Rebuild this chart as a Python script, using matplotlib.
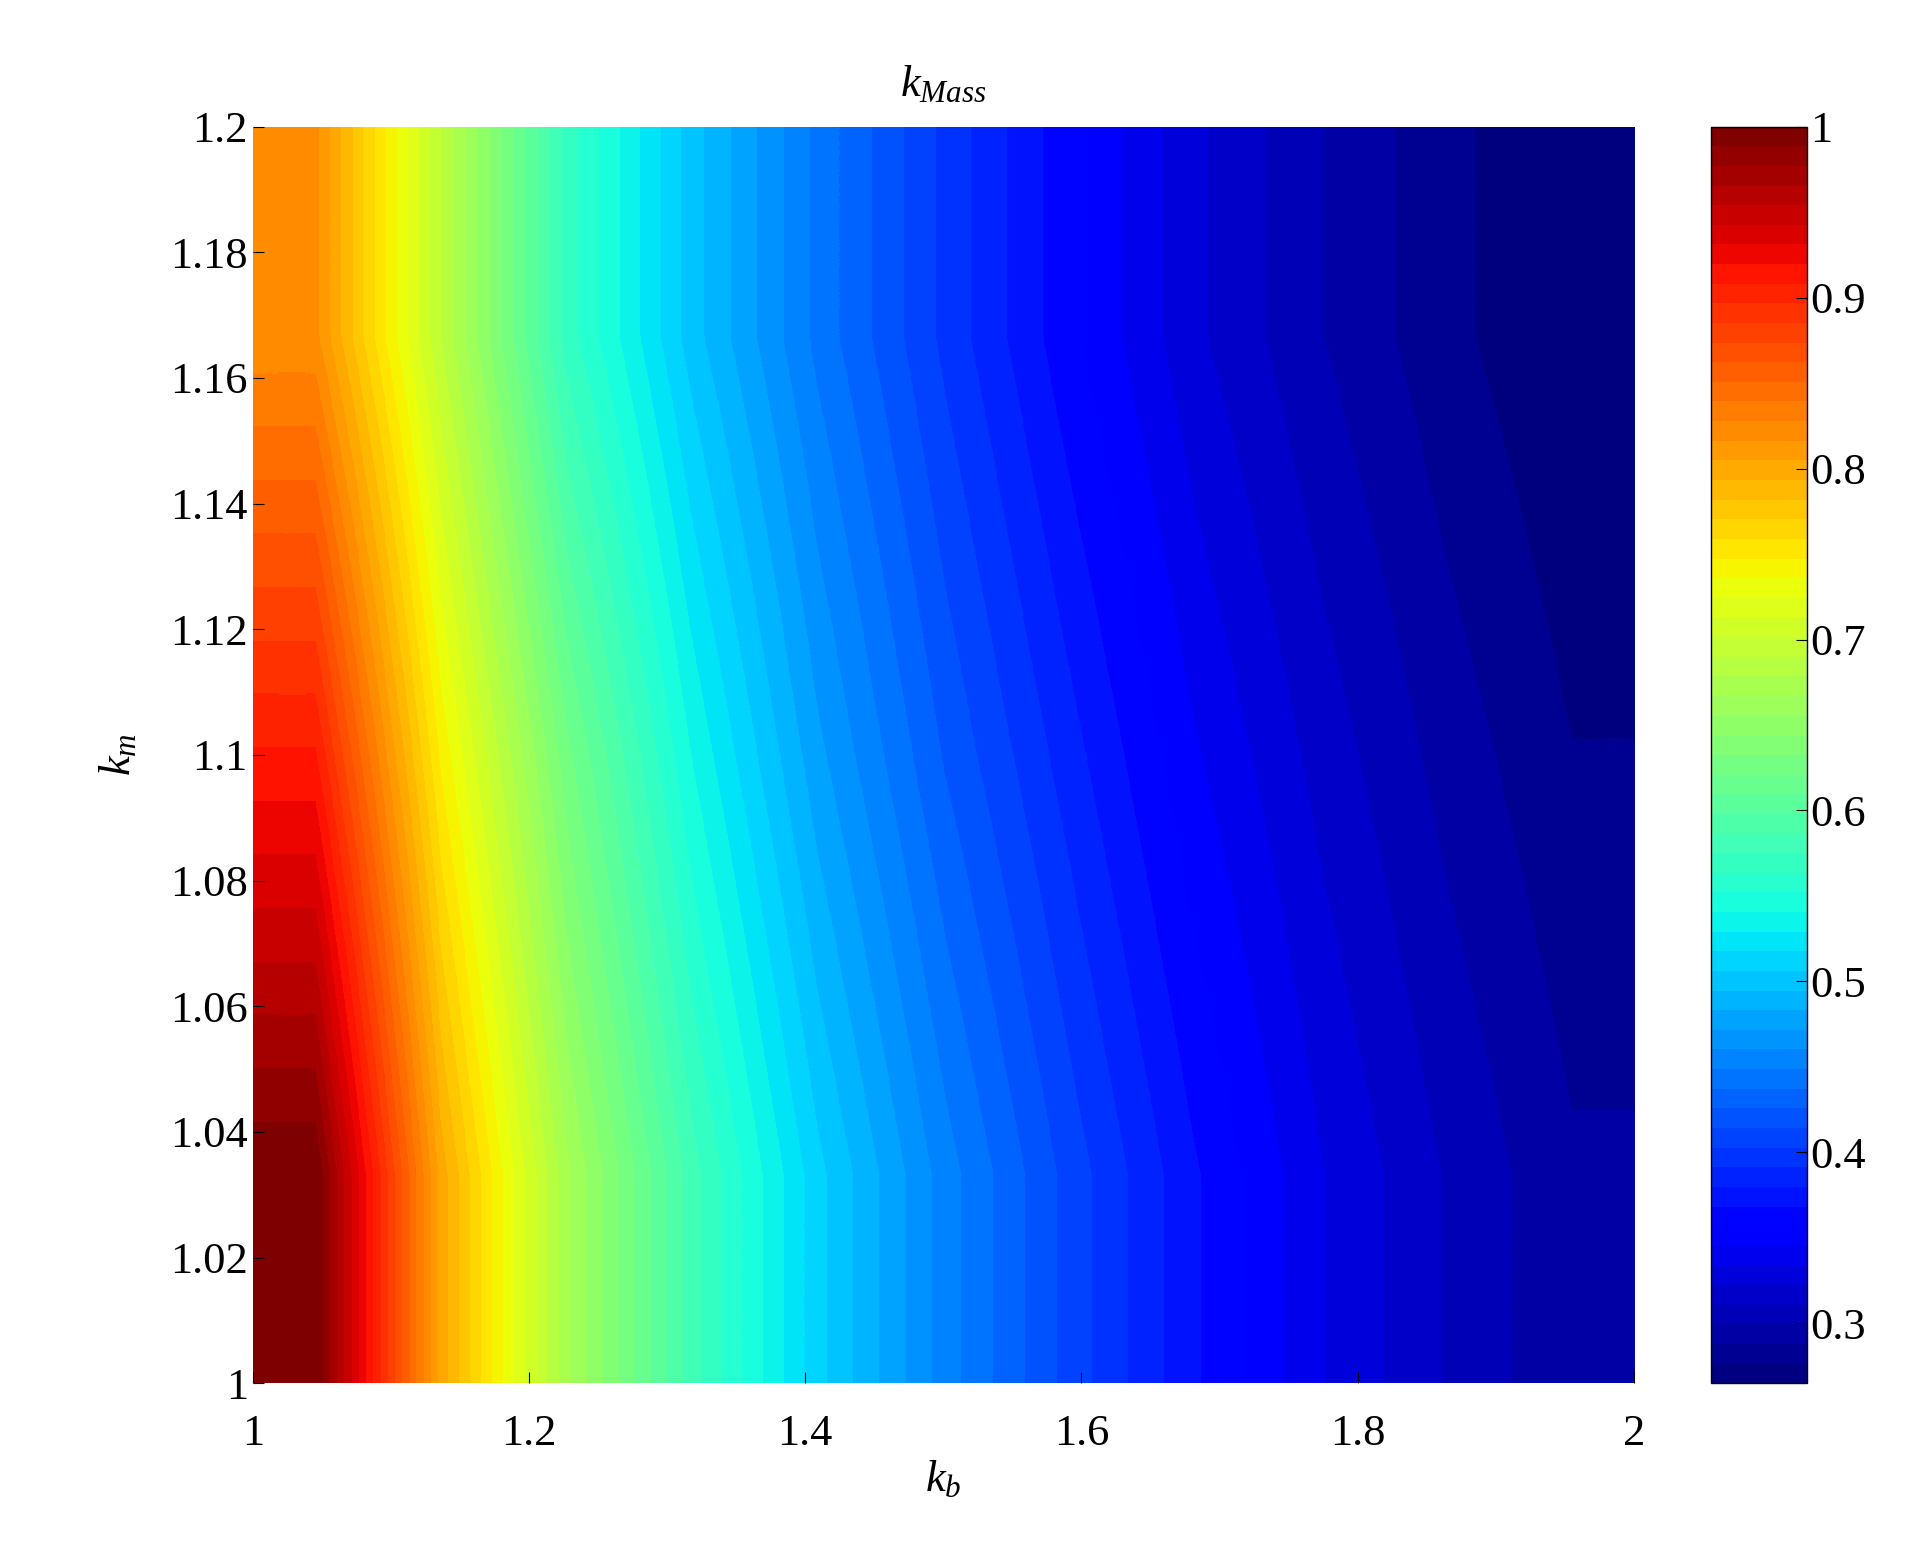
import matplotlib
matplotlib.use("Agg")
import matplotlib.pyplot as plt
import numpy as np

# values
kb = [1.0, 1.1, 1.2, 1.3, 1.4, 1.5, 1.6, 1.7, 1.8, 1.9, 2.0]
km = [1.0, 1.1, 1.2]
k_mass = [
    [1.00, 0.80, 0.67, 0.58, 0.51, 0.455, 0.41, 0.37, 0.335, 0.31, 0.29],
    [0.91, 0.745, 0.625, 0.54, 0.475, 0.425, 0.385, 0.347, 0.318, 0.295, 0.277],
    [0.82, 0.69, 0.57, 0.50, 0.445, 0.40, 0.36, 0.325, 0.30, 0.28, 0.265],
]
xticks = [1, 1.2, 1.4, 1.6, 1.8, 2]
yticks = [1, 1.02, 1.04, 1.06, 1.08, 1.1, 1.12, 1.14, 1.16, 1.18, 1.2]
cticks = [0.3, 0.4, 0.5, 0.6, 0.7, 0.8, 0.9, 1]

plt.rcParams["font.family"] = ["Liberation Serif", "DejaVu Serif"]
plt.rcParams["mathtext.fontset"] = "custom"
plt.rcParams["mathtext.it"] = "Liberation Serif:italic"
plt.rcParams["mathtext.rm"] = "Liberation Serif"

fig = plt.figure(figsize=(19.29, 15.63), dpi=100)
ax = fig.add_axes([0.131, 0.115, 0.716, 0.804])
cax = fig.add_axes([0.887, 0.115, 0.05, 0.804])

cmap = plt.get_cmap("jet", 64)
img = ax.imshow(np.array(k_mass), origin="lower", aspect="auto",
                extent=[kb[0], kb[-1], km[0], km[-1]],
                interpolation="bilinear", interpolation_stage="data",
                cmap=cmap, vmin=0.265, vmax=1.0)
ax.set_xlim(1, 2)
ax.set_ylim(1, 1.2)
ax.set_xticks(xticks)
ax.set_xticklabels(["1", "1.2", "1.4", "1.6", "1.8", "2"])
ax.set_yticks(yticks)
ax.set_yticklabels(["1", "1.02", "1.04", "1.06", "1.08", "1.1", "1.12",
                    "1.14", "1.16", "1.18", "1.2"])
ax.tick_params(direction="in", labelsize=32, length=8)
ax.tick_params(axis="x", pad=22)
for s in ax.spines.values():
    s.set_visible(False)
ax.set_xlabel(r"$k_b$", fontsize=32)
ax.set_ylabel(r"$k_m$", fontsize=32, labelpad=22)
ax.set_title(r"$k_{Mass}$", fontsize=32, pad=22)

cb = fig.colorbar(img, cax=cax, ticks=cticks)
cb.ax.set_yticklabels(["0.3", "0.4", "0.5", "0.6", "0.7", "0.8", "0.9", "1"])
cb.ax.tick_params(direction="in", labelsize=32, length=8, pad=2)
cb.outline.set_linewidth(1)

fig.savefig("out.png", dpi=100)
